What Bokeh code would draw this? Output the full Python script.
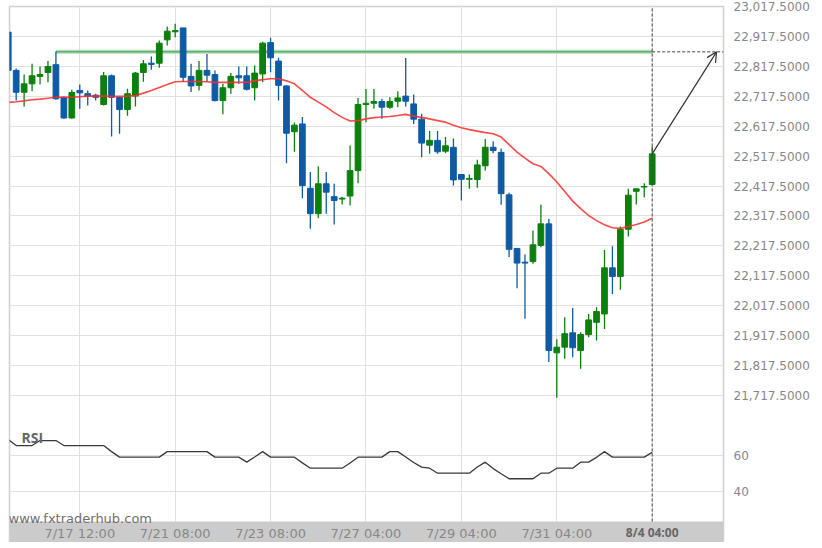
from bokeh.plotting import figure
from bokeh.models import (Range1d, FixedTicker, NumeralTickFormatter, Label, BoxAnnotation,
                          Arrow, OpenHead, ColumnDataSource)
from bokeh.embed import file_html
from bokeh.resources import INLINE

# ---------------- data (4h candles, index = candle number) ----------------
opens = [22932, 22804, 22731, 22759, 22784, 22797, 22823, 22714, 22645, 22737,
         22726, 22721, 22690, 22786, 22714, 22673, 22718, 22797, 22828, 22828,
         22906, 22933, 22946, 22784, 22754, 22804, 22790, 22703, 22746, 22786,
         22786, 22746, 22792, 22897, 22835, 22752, 22599, 22625, 22410, 22325,
         22425, 22382, 22374, 22384, 22469, 22690, 22694, 22700, 22681, 22701,
         22718, 22692, 22641, 22554, 22570, 22534, 22547, 22456, 22440, 22439,
         22485, 22547, 22530, 22388, 22209, 22163, 22165, 22219, 22291, 21860,
         21879, 21927, 21868, 21921, 21962, 21990, 22144, 22115, 22273, 22400,
         22414, 22423]
highs = [22932, 22810, 22790, 22826, 22817, 22835, 22867, 22717, 22739, 22757,
         22737, 22726, 22799, 22790, 22716, 22743, 22799, 22839, 22850, 22904,
         22951, 22960, 22946, 22826, 22835, 22859, 22804, 22759, 22795, 22817,
         22817, 22820, 22900, 22913, 22846, 22754, 22630, 22648, 22464, 22484,
         22464, 22425, 22382, 22553, 22712, 22742, 22742, 22709, 22714, 22734,
         22845, 22723, 22659, 22601, 22601, 22581, 22576, 22456, 22456, 22505,
         22575, 22567, 22543, 22395, 22209, 22189, 22269, 22356, 22308, 21905,
         21979, 22010, 21929, 21990, 22012, 22204, 22216, 22282, 22408, 22409,
         22427, 22550]
lows = [22804, 22703, 22683, 22734, 22757, 22764, 22706, 22642, 22642, 22676,
        22687, 22703, 22687, 22583, 22592, 22652, 22683, 22766, 22806, 22813,
        22887, 22915, 22765, 22732, 22737, 22765, 22700, 22657, 22726, 22759,
        22737, 22703, 22765, 22798, 22703, 22494, 22532, 22377, 22275, 22310,
        22325, 22289, 22356, 22352, 22427, 22631, 22676, 22642, 22676, 22681,
        22683, 22625, 22514, 22525, 22525, 22527, 22419, 22369, 22408, 22412,
        22469, 22527, 22355, 22180, 22076, 21974, 22158, 22213, 21829, 21710,
        21840, 21845, 21807, 21912, 21901, 21940, 22057, 22071, 22249, 22356,
        22380, 22423]
closes = [22804, 22731, 22759, 22786, 22790, 22817, 22709, 22645, 22730, 22729,
          22717, 22714, 22786, 22714, 22673, 22726, 22795, 22826, 22824, 22895,
          22935, 22937, 22781, 22752, 22804, 22788, 22703, 22746, 22784, 22779,
          22741, 22795, 22895, 22846, 22754, 22594, 22621, 22419, 22325, 22425,
          22397, 22369, 22377, 22469, 22690, 22694, 22700, 22681, 22700, 22712,
          22701, 22641, 22561, 22570, 22532, 22552, 22438, 22440, 22443, 22488,
          22547, 22536, 22392, 22206, 22160, 22160, 22221, 22291, 21868, 21879,
          21924, 21877, 21921, 21970, 21998, 22144, 22115, 22273, 22387, 22408,
          22416, 22525]
moving_avg = [22697, 22699, 22702, 22706, 22708, 22711, 22714, 22714, 22714, 22716,
              22718, 22718, 22718, 22717, 22717, 22718, 22720, 22728, 22737, 22747,
              22757, 22766, 22767, 22767, 22767, 22766, 22764, 22764, 22764, 22764,
              22764, 22769, 22773, 22776, 22776, 22769, 22759, 22737, 22714, 22698,
              22682, 22663, 22647, 22635, 22636, 22642, 22646, 22648, 22650, 22653,
              22657, 22651, 22647, 22642, 22636, 22631, 22621, 22612, 22606, 22601,
              22596, 22592, 22581, 22556, 22531, 22511, 22492, 22483, 22459, 22431,
              22399, 22367, 22342, 22319, 22302, 22288, 22278, 22276, 22282, 22289,
              22297, 22310]
rsi_values = [69.0, 65.6, 65.6, 65.6, 68.4, 68.4, 68.4, 65.6, 65.6, 65.6,
              65.6, 65.6, 65.6, 62.2, 59.1, 59.1, 59.1, 59.1, 59.1, 59.1,
              62.2, 62.2, 62.2, 62.2, 62.2, 62.2, 59.1, 59.1, 59.1, 59.1,
              56.3, 59.2, 62.2, 59.1, 59.1, 59.1, 59.1, 55.9, 52.9, 52.9,
              52.9, 52.9, 52.9, 55.8, 59.1, 59.1, 59.1, 59.1, 62.2, 62.2,
              59.2, 56.1, 53.5, 52.9, 50.1, 50.1, 50.1, 50.1, 50.1, 53.6,
              56.3, 52.7, 49.8, 47.0, 47.0, 47.0, 47.0, 50.1, 50.1, 52.9,
              52.9, 52.9, 56.3, 56.3, 59.0, 62.2, 59.1, 59.1, 59.1, 59.1,
              59.1, 61.8]

price_ticks = [21717.5, 21817.5, 21917.5, 22017.5, 22117.5, 22217.5, 22317.5,
               22417.5, 22517.5, 22617.5, 22717.5, 22817.5, 22917.5, 23017.5]
rsi_ticks = [40, 60]
x_tick_idx = [9, 21, 33, 45, 57, 69, 81]
x_tick_labels = ["7/17 12:00", "7/21 08:00", "7/23 08:00", "7/27 04:00",
                 "7/29 04:00", "7/31 04:00", "8/4 04:00"]

target_price = 22866      # resistance level being targeted
target_from_idx = 6       # candle where the level starts
forecast_idx = 89.1       # end of the projection arrow

# ---------------- styling ----------------
BLUE = "#0d5ba4"
GREEN = "#0b800d"
GRID = "#e1e1e1"
BAND = "#cbcbcb"
LABEL = "#888888"

PRICE_TOP, PRICE_BOTTOM = 23017.5, 21226.1   # frame incl. time band
BAND_TOP = 21296.3                            # price level of the time band's top edge
RSI_TOP, RSI_BOTTOM = 311.5, 11.3

n = len(opens)
idx = list(range(n))
last_idx = idx[-1]
colors = [GREEN if c >= o else BLUE for o, c in zip(opens, closes)]
src = ColumnDataSource(dict(
    x=idx, o=opens, h=highs, l=lows, c=closes,
    top=[max(o, c) for o, c in zip(opens, closes)],
    bottom=[min(o, c) for o, c in zip(opens, closes)],
    color=colors))

p = figure(width=815, height=542,
           x_range=Range1d(0.16, 89.97), y_range=Range1d(PRICE_BOTTOM, PRICE_TOP),
           output_backend="svg", toolbar_location=None, y_axis_location="right",
           min_border_left=9, min_border_right=92, min_border_top=6, min_border_bottom=0,
           background_fill_color="white", border_fill_color="white",
           outline_line_color="#d0d0d0", outline_line_width=1.5)
p.extra_y_ranges = {"rsi": Range1d(RSI_BOTTOM, RSI_TOP)}

pr = p.y_range
rr = p.extra_y_ranges["rsi"]


def rsi_to_price(v):
    return pr.start + (v - rr.start) / (rr.end - rr.start) * (pr.end - pr.start)


rsi_pos = [rsi_to_price(v) for v in rsi_ticks]

ax = p.yaxis[0]
ax.ticker = FixedTicker(ticks=price_ticks + rsi_pos)
ax.formatter = NumeralTickFormatter(format="0,0.0000")
ax.major_label_overrides = {pos: str(v) for pos, v in zip(rsi_pos, rsi_ticks)}
ax.axis_line_color = None
ax.major_tick_line_color = None
ax.minor_tick_line_color = None
ax.major_label_standoff = 4
ax.major_label_text_font = "DejaVu Sans"
ax.major_label_text_font_size = "12px"
ax.major_label_text_color = LABEL

# time axis drawn inside the grey band at the bottom of the frame
bx = p.xaxis[0]
bx.fixed_location = BAND_TOP
bx.ticker = FixedTicker(ticks=x_tick_idx[:-1])
bx.major_label_overrides = {i: t for i, t in zip(x_tick_idx[:-1], x_tick_labels[:-1])}
bx.axis_line_color = None
bx.major_tick_line_color = None
bx.minor_tick_line_color = None
bx.major_tick_out = 0
bx.major_tick_in = 0
bx.major_label_standoff = 5
bx.major_label_text_font = "DejaVu Sans"
bx.major_label_text_font_size = "13px"
bx.major_label_text_color = LABEL

p.ygrid.grid_line_color = GRID
p.xgrid.ticker = FixedTicker(ticks=x_tick_idx)
p.xgrid.grid_line_color = GRID

p.add_layout(BoxAnnotation(top=BAND_TOP, fill_color=BAND, fill_alpha=1.0,
                           line_color=None, level="underlay"))

# target level (behind the candles)
p.segment(x0=[target_from_idx], y0=[target_price], x1=[last_idx], y1=[target_price],
          line_color="#a9d9b3", line_width=4, line_alpha=0.9)
p.segment(x0=[target_from_idx], y0=[target_price], x1=[last_idx], y1=[target_price],
          line_color="#5aa96d", line_width=1.5, line_alpha=0.9)

# candles
p.segment(x0="x", y0="l", x1="x", y1="h", line_color="color", line_width=1.3, source=src)
p.vbar(x="x", top="top", bottom="bottom", width=0.72, fill_color="color",
       line_color="color", line_width=1, source=src)

# moving average
p.line(idx, moving_avg, line_color="#ff2a2a", line_width=1.6, line_alpha=0.85)

# RSI
p.line(idx, rsi_values, y_range_name="rsi", line_color="#3a3a3a", line_width=1.3)

# projection: current-time marker, level extension and arrow
p.segment(x0=[last_idx], y0=[BAND_TOP], x1=[last_idx], y1=[PRICE_TOP],
          line_color="#444444", line_dash="3 2", line_width=1)
p.segment(x0=[last_idx], y0=[target_price], x1=[p.x_range.end], y1=[target_price],
          line_color="#444444", line_dash="3 2", line_width=1)
p.add_layout(Arrow(end=OpenHead(size=10, line_color="#333333", line_width=1.2),
                   x_start=last_idx, y_start=closes[-1],
                   x_end=forecast_idx, y_end=target_price,
                   line_color="#333333", line_width=1.2))

p.add_layout(Label(x=12, y=104.7, x_units="screen", y_units="screen", text="RSI",
                   text_font="Open Sans", text_font_style="bold", text_font_size="14px",
                   text_color="#666666", text_baseline="alphabetic"))
p.add_layout(Label(x=-1, y=24, x_units="screen", y_units="screen",
                   text="www.fxtraderhub.com", text_font="DejaVu Sans",
                   text_font_size="13px", text_color="#707070", text_baseline="alphabetic"))
p.add_layout(Label(x=x_tick_idx[-1], y=10, y_units="screen", text=x_tick_labels[-1],
                   text_align="center", text_baseline="middle", text_font="Open Sans",
                   text_font_style="bold", text_font_size="12px", text_color="#666666"))

open("out.html", "w").write(file_html(p, INLINE))
